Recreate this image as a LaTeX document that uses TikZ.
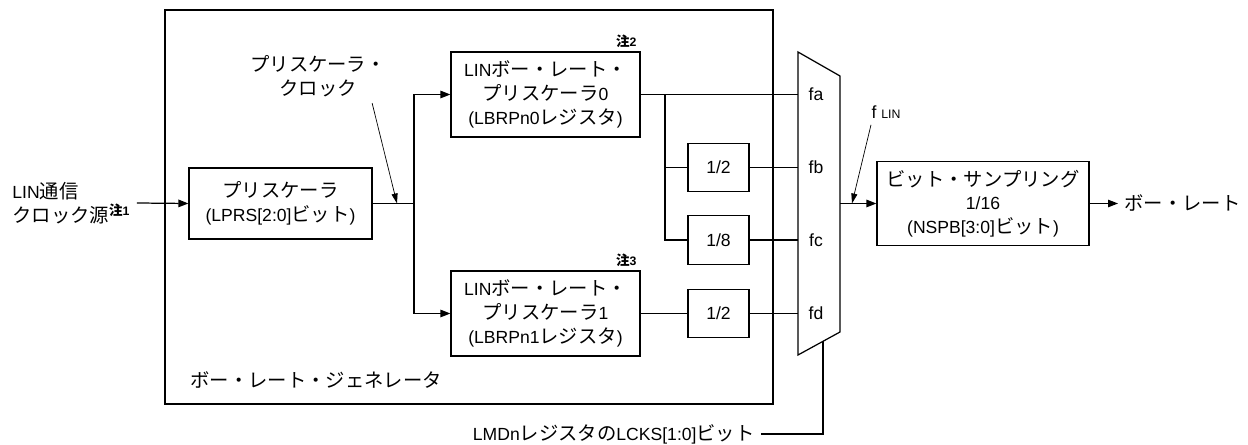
\documentclass[tikz,border=0pt]{standalone}
\usepackage{fontspec}
\setmainfont{Liberation Sans}
\newfontfamily\jp[Scale=1.1]{Noto Sans CJK JP}
\usetikzlibrary{arrows.meta}

\newcommand{\chu}[1]{{\scriptsize\bfseries{\jp 注}#1}}

\begin{document}
\begin{tikzpicture}[
    >={Triangle[length=2mm, width=1.5mm]},
    x=0.02cm, y=-0.02cm,
    line width=0.7pt,
    every node/.style={font=\fontsize{10pt}{13.5pt}\selectfont},
    block/.style={draw, align=center, inner sep=0pt},
    divbox/.style={block, minimum width=1.22cm, minimum height=0.97cm},
    pointer/.style={->, line width=0.4pt, >={Triangle[length=2mm, width=1.2mm]}}
]

\useasboundingbox (0,0) rectangle (1248,445);

% Baud rate generator frame
\draw (165,10) rectangle (773,404);
\node[anchor=west] (gen) at (184,380) {\jp ボー・レート・ジェネレータ};

% Clock source and prescaler
\node[anchor=west, align=left] (src) at (6,203) {LIN{\jp 通信}\\{\jp クロック源}\textsuperscript{\chu{1}}};
\node[block, minimum width=3.66cm, minimum height=1.42cm] (prs) at (280.5,203.5)
    {{\jp プリスケーラ}\\(LPRS[2:0]{\jp ビット})};
\draw[->] (src.east) -- (prs.west);

% Prescaler clock
\coordinate (jp) at (414,203.5);
\coordinate (pck) at (397,203.5);
\node[align=center] (pcl) at (318,76) {{\jp プリスケーラ・}\\{\jp クロック}};
\draw[pointer] ([xshift=-0.4cm]pcl.south east) -- (pck);
\draw (prs.east) -- (jp);

% LIN baud rate prescalers
\node[block, minimum width=3.78cm, minimum height=1.7cm] (lbrp0) at (545.5,94.5)
    {LIN{\jp ボー・レート・}\\{\jp プリスケーラ}0\\(LBRPn0{\jp レジスタ})};
\node[block, minimum width=3.78cm, minimum height=1.7cm] (lbrp1) at (545.5,313.5)
    {LIN{\jp ボー・レート・}\\{\jp プリスケーラ}1\\(LBRPn1{\jp レジスタ})};
\node[anchor=south east, inner sep=2pt] (n2) at (lbrp0.north east) {\chu{2}};
\node[anchor=south east, inner sep=2pt] (n3) at (lbrp1.north east) {\chu{3}};
\draw[->] (jp) |- (lbrp0.west);
\draw[->] (jp) |- (lbrp1.west);

% Dividers
\node[divbox] (div2a) at (718.5,167.5) {1/2};
\node[divbox] (div8) at (718.5,240) {1/8};
\node[divbox] (div2b) at (718.5,313.5) {1/2};

% Selector
\draw (798,52) -- (840,76) -- (840,332) -- (798,355) -- cycle;
\foreach \n/\y in {fa/94.5, fb/167.5, fc/240, fd/313.5} {
    \coordinate (\n) at (798,\y);
    \node (l\n) at (816,\y) {\n};
}
\coordinate (j0) at (665,94.5);
\draw (lbrp0.east) -- (fa);
\draw (j0) |- (div2a.west);
\draw (j0) |- (div8.west);
\draw (div2a.east) -- (fb);
\draw (div8.east) -- (fc);
\draw (lbrp1.east) -- (div2b.west);
\draw (div2b.east) -- (fd);

% Clock select bits
\coordinate (msel) at (823,341);
\node[anchor=east] (sel) at (761,434) {LMDn{\jp レジスタの}LCKS[1:0]{\jp ビット}};
\draw (sel.east) -| (msel);

% Bit sampling and output
\coordinate (mout) at (840,203.5);
\coordinate (fk) at (852,203.5);
\node[block, minimum width=4.24cm, minimum height=1.68cm] (bsp) at (983,203.5)
    {{\jp ビット・サンプリング}\\1/16\\(NSPB[3:0]{\jp ビット})};
\draw[->] (mout) -- (bsp.west);
\node (flin) at (886,112) {f {\scriptsize LIN}};
\draw[pointer] ([xshift=-0.3cm]flin.south) -- (fk);
\node[anchor=west] (baud) at (1118,203.5) {\jp ボー・レート};
\draw[->] (bsp.east) -- (baud.west);

\end{tikzpicture}
\end{document}
